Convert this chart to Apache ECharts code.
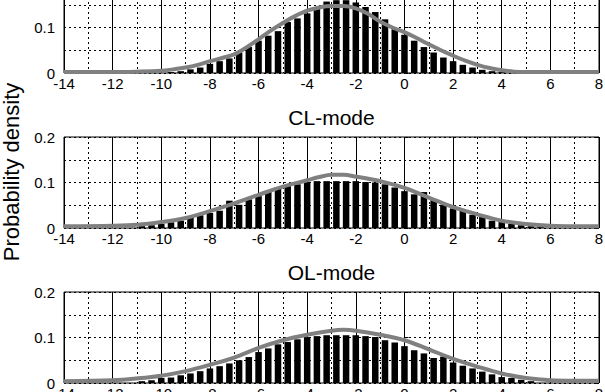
<!DOCTYPE html>
<html><head><meta charset="utf-8">
<script src="https://cdn.jsdelivr.net/npm/echarts@6/dist/echarts.min.js"></script>
<style>html,body{margin:0;padding:0;background:#fff}#c{width:605px;height:392px}</style>
</head><body><div id="c"></div>
<script>
// ---- data ----
const panelTitles = ['', 'CL-mode', 'OL-mode'];
const yAxisTitle = 'Probability density';

const topBins = [-9.6,-9.2,-8.8,-8.4,-8.0,-7.6,-7.2,-6.8,-6.4,-6.0,-5.6,-5.2,-4.8,-4.4,-4.0,-3.6,-3.2,-2.8,-2.4,-2.0,-1.6,-1.2,-0.8,-0.4,0.0,0.4,0.8,1.2,1.6,2.0,2.4,2.8,3.2,3.6,4.0];
const topHist = [0.002,0.004,0.008,0.012,0.020,0.026,0.032,0.045,0.057,0.071,0.082,0.092,0.112,0.120,0.131,0.145,0.157,0.160,0.160,0.155,0.145,0.134,0.118,0.096,0.084,0.071,0.057,0.045,0.034,0.026,0.018,0.012,0.007,0.004,0.002];
const topCurveX = [-14,-12,-11,-10,-9.5,-9,-8.5,-8,-7.5,-7,-6.5,-6,-5.5,-5,-4.5,-4,-3.5,-3,-2.5,-2,-1.5,-1,-0.5,0,0.5,1,1.5,2,2.5,3,3.5,4,4.5,5,6,8];
const topCurveY = [0.002,0.002,0.003,0.005,0.008,0.012,0.018,0.026,0.033,0.041,0.056,0.074,0.093,0.110,0.125,0.137,0.144,0.147,0.147,0.142,0.130,0.113,0.100,0.090,0.077,0.063,0.050,0.038,0.027,0.018,0.011,0.006,0.003,0.002,0.002,0.002];

const clBins = [-10.8,-10.4,-10.0,-9.6,-9.2,-8.8,-8.4,-8.0,-7.6,-7.2,-6.8,-6.4,-6.0,-5.6,-5.2,-4.8,-4.4,-4.0,-3.6,-3.2,-2.8,-2.4,-2.0,-1.6,-1.2,-0.8,-0.4,0.0,0.4,0.8,1.2,1.6,2.0,2.4,2.8,3.2,3.6,4.0,4.4,4.8,5.2,5.6];
const clHist = [0.004,0.006,0.009,0.0125,0.016,0.022,0.028,0.033,0.038,0.060,0.051,0.063,0.070,0.081,0.087,0.092,0.096,0.101,0.103,0.103,0.103,0.103,0.103,0.101,0.100,0.096,0.089,0.081,0.074,0.079,0.063,0.051,0.043,0.038,0.029,0.024,0.016,0.013,0.009,0.006,0.004,0.002];
const clCurveX = [-14,-12,-11,-10,-9,-8,-7,-6,-5,-4,-3.5,-3,-2.5,-2,-1,0,1,2,3,4,5,6,7,8];
const clCurveY = [0.004,0.005,0.007,0.013,0.022,0.037,0.054,0.073,0.091,0.105,0.112,0.117,0.117,0.113,0.103,0.088,0.067,0.046,0.030,0.016,0.009,0.005,0.004,0.004];

const olBins = [-10.8,-10.4,-10.0,-9.6,-9.2,-8.8,-8.4,-8.0,-7.6,-7.2,-6.8,-6.4,-6.0,-5.6,-5.2,-4.8,-4.4,-4.0,-3.6,-3.2,-2.8,-2.4,-2.0,-1.6,-1.2,-0.8,-0.4,0.0,0.4,0.8,1.2,1.6,2.0,2.4,2.8,3.2,3.6,4.0,4.4,4.8,5.2];
const olHist = [0.004,0.006,0.011,0.012,0.017,0.021,0.026,0.032,0.037,0.043,0.050,0.057,0.068,0.076,0.085,0.090,0.096,0.101,0.103,0.105,0.105,0.105,0.105,0.103,0.101,0.094,0.089,0.081,0.072,0.065,0.055,0.058,0.045,0.038,0.032,0.025,0.019,0.013,0.011,0.007,0.004];
const olCurveX = [-14,-12,-11,-10,-9,-8,-7,-6,-5,-4,-3,-2.5,-2,-1,0,1,2,3,4,5,6,7,8];
const olCurveY = [0.004,0.006,0.010,0.016,0.026,0.040,0.056,0.077,0.094,0.106,0.115,0.117,0.115,0.106,0.094,0.074,0.053,0.036,0.021,0.011,0.006,0.005,0.005];

const xMin = -14, xMax = 8, xStep = 2;
const yMin = 0, yMax = 0.2, yStep = 0.1;

// ---- layout ----
const panels = [
  {bins: topBins, hist: topHist, cx: topCurveX, cy: topCurveY},
  {bins: clBins, hist: clHist, cx: clCurveX, cy: clCurveY},
  {bins: olBins, hist: olHist, cx: olCurveX, cy: olCurveY}
];
const gridTops = [-18, 137, 292];
const gridH = 91, gridL = 64, gridW = 535;
const FONT = 'Liberation Sans, Arial, sans-serif';
const dotted = [2, 3];

const grid = [], xAxis = [], yAxis = [], series = [], graphic = [];
panels.forEach((p, i) => {
  grid.push({left: gridL, top: gridTops[i], width: gridW, height: gridH, show: true,
    borderColor: '#000', borderWidth: 1, backgroundColor: '#fff',
    containLabel: false, outerBoundsMode: 'none'});
  xAxis.push({type: 'value', gridIndex: i, min: xMin, max: xMax, interval: xStep,
    axisLine: {show: false},
    axisTick: {show: true, inside: true, length: 4, lineStyle: {color: '#000'}},
    axisLabel: {show: true, color: '#000', fontSize: 15, fontFamily: FONT, margin: 3, hideOverlap: false},
    splitLine: {show: true, lineStyle: {color: '#000', width: 1, type: 'solid'}},
    minorTick: {show: false, splitNumber: 2},
    minorSplitLine: {show: true, lineStyle: {color: '#000', width: 1, type: dotted}}
  });
  yAxis.push({type: 'value', gridIndex: i, min: yMin, max: yMax, interval: yStep,
    axisLine: {show: false},
    axisTick: {show: true, inside: true, length: 4, lineStyle: {color: '#000'}},
    axisLabel: {show: true, color: '#000', fontSize: 15, fontFamily: FONT, margin: 9, hideOverlap: false},
    splitLine: {show: true, lineStyle: {color: '#000', width: 1, type: dotted}},
    minorTick: {show: false, splitNumber: 2},
    minorSplitLine: {show: true, lineStyle: {color: '#000', width: 1, type: dotted}}
  });
  yAxis.push({type: 'value', gridIndex: i, min: yMin, max: yMax, interval: yStep, position: 'right',
    axisLine: {show: false}, axisLabel: {show: false}, splitLine: {show: false},
    axisTick: {show: true, inside: true, length: 4, lineStyle: {color: '#000'}}
  });
  series.push({type: 'bar', xAxisIndex: i, yAxisIndex: 2 * i, barWidth: 6.5,
    itemStyle: {color: '#000'}, z: 2, silent: true,
    data: p.bins.map((b, k) => [b, p.hist[k]])});
  series.push({type: 'line', xAxisIndex: i, yAxisIndex: 2 * i, smooth: 0.35, showSymbol: false,
    lineStyle: {color: '#808080', width: 4}, z: 3, silent: true,
    data: p.cx.map((x, k) => [x, p.cy[k]])});
  if (panelTitles[i]) {
    graphic.push({type: 'text', x: gridL + gridW / 2, y: gridTops[i] - 20,
      style: {text: panelTitles[i], fill: '#000', font: '21px ' + FONT, textAlign: 'center', textVerticalAlign: 'middle'}});
  }
});
graphic.push({type: 'text', x: 11, y: 172, rotation: Math.PI / 2,
  style: {text: yAxisTitle, fill: '#000', font: '22px ' + FONT, textAlign: 'center', textVerticalAlign: 'middle'}});

const chart = echarts.init(document.getElementById('c'), null, {renderer: 'svg'});
chart.setOption({animation: false, backgroundColor: '#fff', grid, xAxis, yAxis, series, graphic});
</script>
</body></html>
